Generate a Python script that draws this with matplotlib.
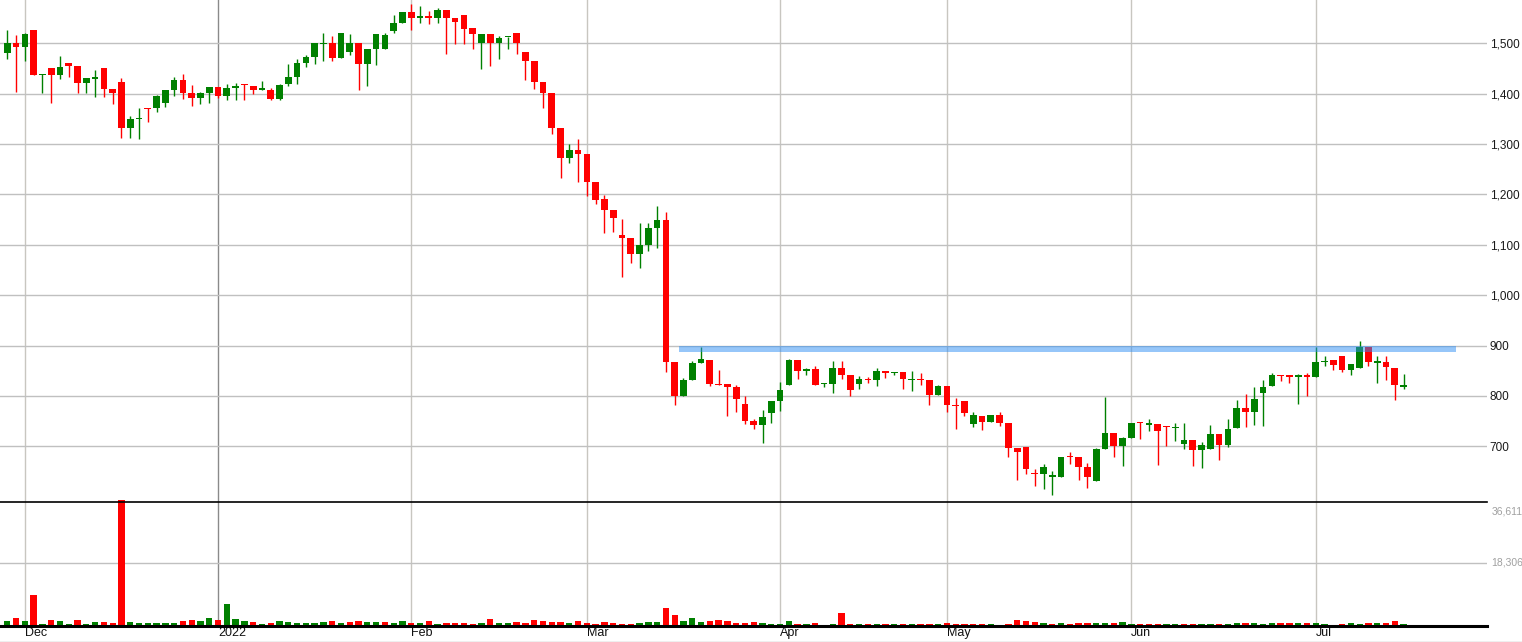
import numpy as np
import matplotlib
matplotlib.use("Agg")
import matplotlib.pyplot as plt
from matplotlib.patches import Rectangle

# daily candles, Nov 29 2021 .. mid Jul 2022 (index positions)
opens = [1481, 1500, 1493, 1527, 1437, 1451, 1437, 1461, 1455, 1421,
         1430, 1451, 1409, 1423, 1331, 1349, 1371, 1371, 1381, 1407,
         1427, 1401, 1391, 1401, 1413, 1395, 1412, 1419, 1415, 1408,
         1408, 1389, 1419, 1434, 1461, 1473, 1499, 1500, 1471, 1483,
         1500, 1459, 1489, 1489, 1525, 1541, 1562, 1551, 1553, 1551,
         1567, 1550, 1557, 1531, 1501, 1519, 1501, 1512, 1521, 1483,
         1465, 1423, 1401, 1331, 1273, 1289, 1281, 1225, 1191, 1169,
         1119, 1113, 1081, 1099, 1133, 1149, 867, 800, 832, 866,
         872, 824, 823, 817, 783, 751, 743, 767, 789, 821,
         871, 849, 853, 823, 823, 855, 841, 823, 833, 831,
         849, 845, 847, 831, 834, 831, 802, 820, 782, 790,
         745, 761, 749, 763, 747, 697, 699, 646, 644, 640,
         640, 680, 679, 658, 632, 695, 726, 700, 716, 748,
         743, 745, 741, 736, 704, 712, 692, 694, 725, 702,
         736, 777, 768, 805, 819, 842, 842, 838, 842, 837,
         867, 872, 880, 852, 855, 898, 866, 868, 856, 818]
highs = [1527, 1517, 1521, 1527, 1440, 1451, 1475, 1461, 1455, 1431,
         1448, 1451, 1409, 1432, 1355, 1371, 1371, 1397, 1407, 1433,
         1439, 1417, 1403, 1413, 1413, 1419, 1421, 1419, 1415, 1425,
         1412, 1419, 1459, 1469, 1477, 1500, 1521, 1515, 1520, 1519,
         1500, 1488, 1519, 1520, 1557, 1562, 1579, 1575, 1565, 1571,
         1567, 1550, 1557, 1531, 1519, 1519, 1515, 1513, 1521, 1483,
         1465, 1423, 1401, 1331, 1300, 1311, 1281, 1225, 1199, 1169,
         1151, 1113, 1143, 1143, 1177, 1165, 867, 835, 870, 898,
         872, 852, 823, 821, 799, 755, 773, 789, 827, 873,
         871, 855, 859, 825, 869, 869, 841, 839, 837, 855,
         849, 847, 847, 849, 845, 831, 821, 820, 796, 790,
         769, 761, 763, 769, 747, 697, 699, 654, 664, 650,
         679, 689, 679, 667, 697, 798, 726, 718, 747, 748,
         755, 745, 741, 747, 747, 712, 708, 743, 725, 755,
         791, 803, 817, 832, 846, 842, 842, 844, 845, 898,
         880, 872, 880, 864, 910, 898, 880, 880, 856, 844]
lows = [1469, 1403, 1465, 1437, 1401, 1381, 1429, 1433, 1401, 1401,
        1393, 1393, 1380, 1313, 1313, 1311, 1343, 1363, 1373, 1395,
        1389, 1375, 1379, 1381, 1391, 1388, 1388, 1387, 1399, 1407,
        1387, 1388, 1415, 1419, 1453, 1459, 1465, 1465, 1471, 1477,
        1407, 1415, 1457, 1489, 1520, 1541, 1527, 1541, 1539, 1541,
        1479, 1498, 1499, 1489, 1449, 1455, 1469, 1489, 1479, 1427,
        1409, 1371, 1319, 1233, 1263, 1225, 1197, 1181, 1123, 1125,
        1037, 1063, 1053, 1087, 1093, 847, 781, 800, 831, 866,
        820, 822, 761, 769, 745, 735, 707, 747, 771, 821,
        833, 841, 821, 817, 805, 833, 799, 813, 825, 819,
        835, 841, 814, 810, 821, 782, 802, 769, 734, 761,
        738, 732, 749, 740, 679, 634, 644, 621, 615, 603,
        640, 665, 634, 617, 632, 695, 679, 660, 716, 714,
        731, 663, 700, 710, 694, 661, 657, 694, 673, 698,
        736, 738, 743, 740, 819, 829, 826, 783, 799, 837,
        859, 851, 848, 841, 855, 859, 826, 832, 791, 813]
closes = [1500, 1493, 1519, 1437, 1440, 1437, 1453, 1455, 1421, 1431,
          1431, 1409, 1401, 1331, 1349, 1350, 1369, 1395, 1407, 1427,
          1401, 1391, 1401, 1413, 1395, 1411, 1413, 1417, 1408, 1409,
          1389, 1418, 1434, 1460, 1473, 1500, 1501, 1471, 1520, 1500,
          1459, 1488, 1519, 1516, 1540, 1562, 1551, 1553, 1551, 1567,
          1551, 1543, 1529, 1519, 1519, 1501, 1511, 1513, 1501, 1465,
          1423, 1401, 1331, 1273, 1289, 1281, 1225, 1189, 1169, 1153,
          1113, 1081, 1099, 1133, 1149, 867, 800, 832, 866, 874,
          824, 822, 817, 793, 751, 743, 759, 789, 811, 871,
          849, 853, 821, 825, 855, 841, 811, 833, 831, 849,
          845, 847, 833, 834, 831, 802, 820, 781, 780, 767,
          763, 749, 763, 747, 697, 689, 654, 644, 658, 642,
          679, 678, 658, 640, 695, 726, 700, 716, 747, 746,
          745, 730, 738, 738, 712, 692, 702, 725, 702, 735,
          777, 768, 793, 818, 842, 840, 838, 841, 837, 868,
          869, 861, 852, 864, 898, 868, 868, 857, 821, 821]
volumes = [1350, 2200, 1350, 9150, 480, 1640, 1350, 480, 1640, 480,
           1060, 1060, 770, 36611, 1060, 770, 770, 770, 770, 770,
           1350, 1640, 1350, 2200, 1640, 6260, 1930, 1350, 1060, 480,
           770, 1350, 1060, 770, 770, 770, 1060, 1350, 770, 1060,
           1350, 1060, 1060, 1060, 770, 1350, 770, 770, 1350, 480,
           770, 770, 770, 480, 770, 1930, 770, 770, 1060, 770,
           1640, 1350, 1060, 1060, 770, 1350, 770, 480, 1060, 770,
           480, 480, 770, 1060, 1060, 5100, 3080, 1350, 2200, 1060,
           1350, 1640, 1350, 770, 770, 1060, 770, 480, 480, 1350,
           480, 480, 770, 150, 480, 3660, 480, 480, 480, 480,
           480, 480, 480, 480, 480, 480, 480, 770, 480, 480,
           480, 480, 480, 150, 480, 1640, 1350, 1060, 770, 480,
           770, 480, 770, 770, 770, 770, 770, 1060, 480, 480,
           480, 480, 480, 480, 480, 480, 480, 480, 480, 480,
           770, 770, 770, 480, 770, 770, 770, 770, 770, 770,
           480, 150, 480, 770, 480, 770, 770, 770, 1350, 480]

month_labels = ["Dec", "2022", "Feb", "Mar", "Apr", "May", "Jun", "Jul"]
month_pos = [2, 24, 46, 66, 88, 107, 128, 149]
price_ticks = [700, 800, 900, 1000, 1100, 1200, 1300, 1400, 1500]

# resistance band
band_x = (76.5, 165.0)
band_y = (887, 900)

GREEN = "#008000"
RED = "#ff0000"
GRID = "#c8c6c0"

W, H = 1522, 642
fig = plt.figure(figsize=(W / 100, H / 100), dpi=100)
plt.rcParams["font.family"] = ["Liberation Sans", "DejaVu Sans"]

right = 1487 / W
ax = fig.add_axes([0, (H - 502) / H, right, 502 / H])
axv = fig.add_axes([0, (H - 626) / H, right, 124 / H])

o = np.array(opens, float)
h = np.array(highs, float)
l = np.array(lows, float)
c = np.array(closes, float)
v = np.array(volumes, float)
x = np.arange(len(o))

up = c >= o
cols = np.where(up, GREEN, RED)

xlim = (-0.83, 168.5)
for a in (ax, axv):
    a.set_xlim(*xlim)
    for s in a.spines.values():
        s.set_visible(False)
    a.set_xticks([])
    for i, m in enumerate(month_pos):
        a.axvline(m, color="#8a8a8a" if month_labels[i] == "2022" else GRID,
                  lw=1, zorder=0)

# price panel
ax.set_ylim(589.4, 1586)
for p in price_ticks:
    ax.axhline(p, color="#c0c0c0", lw=1, zorder=0, xmax=1.0)
ax.vlines(x, l, h, colors=cols, lw=1.0, zorder=2)
body_lo = np.minimum(o, c)
body_h = np.maximum(np.abs(c - o), 2.5)
ax.bar(x, body_h, bottom=body_lo, width=0.76, color=cols, lw=0, zorder=3)
ax.add_patch(Rectangle((band_x[0], band_y[0]), band_x[1] - band_x[0],
                       band_y[1] - band_y[0], facecolor=(0.18, 0.56, 0.96),
                       alpha=0.5, lw=0, zorder=5))
ax.yaxis.tick_right()
ax.set_yticks(price_ticks)
ax.set_yticklabels([f"{p:,}" for p in price_ticks], fontsize=8.5,
                   color="#1a1a1a")
ax.tick_params(axis="y", length=0, pad=2)

# volume panel
vmax = int(v.max())
vtop = vmax * 123.7 / 125.7
axv.set_ylim(0, vtop)
vcols = [GREEN if (i == 0 and up[0]) or (i > 0 and c[i] >= c[i - 1]) else RED
         for i in range(len(c))]
axv.axhline(round(vmax / 2), color="#c0c0c0", lw=1, zorder=0)
axv.bar(x, v, width=0.72, color=vcols, lw=0, zorder=3, clip_on=False)
axv.set_yticks([])
axv.text(1.003, 1 - 9 / 124, f"{vmax:,}", transform=axv.transAxes,
         fontsize=7.5, color="#a0a0a0", va="center", ha="left")
axv.text(1.003, round(vmax / 2) / vtop, f"{round(vmax / 2):,}",
         transform=axv.transAxes, fontsize=7.5, color="#a0a0a0",
         va="center", ha="left")
axv.axhline(vtop, color="black", lw=1.2, zorder=6, clip_on=False)
axv.axhline(0, color="black", lw=2.2, zorder=6, clip_on=False)

# month labels under the volume panel
for m, lab in zip(month_pos, month_labels):
    axv.text(m, -0.01, lab, transform=axv.get_xaxis_transform(),
             fontsize=9, va="top", ha="left", color="#111111")
    
# bottom frame line
fig.add_artist(plt.Line2D([0, 1], [0.5 / H, 0.5 / H], color="#b0b0b0", lw=1))

fig.savefig("out.png", dpi=100)
